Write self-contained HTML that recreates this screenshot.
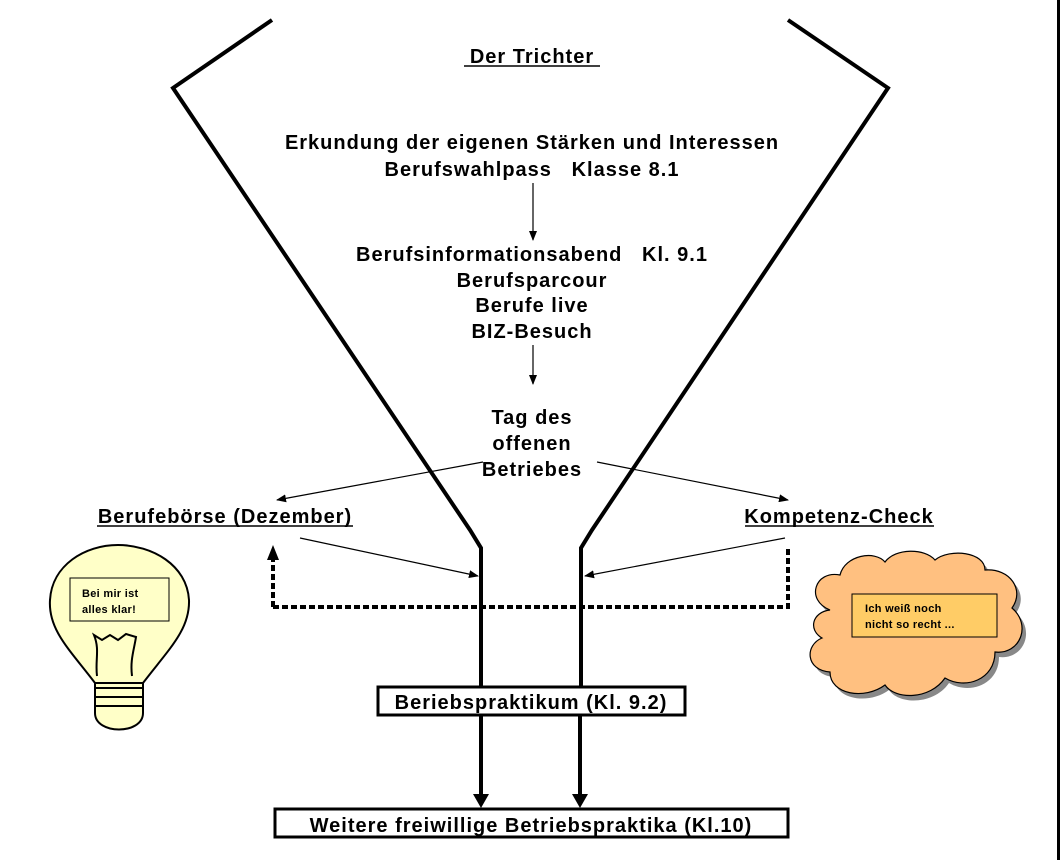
<!DOCTYPE html>
<html><head><meta charset="utf-8"><style>
body{margin:0;background:#fff}
svg{display:block}
text{font-family:"Liberation Sans",sans-serif;font-weight:bold;fill:#000;letter-spacing:1px;white-space:pre}
</style></head><body>
<svg width="1060" height="860" viewBox="0 0 1060 860" xml:space="preserve">
<defs>
<marker id="a" markerWidth="10" markerHeight="8" refX="9" refY="4" orient="auto" markerUnits="userSpaceOnUse"><path d="M0,0 L10,4 L0,8z"/></marker>
</defs>
<rect x="1057" y="0" width="3" height="860" fill="#000"/>
<g fill="none" stroke="#000" stroke-width="4">
<polyline points="272,20 173,88 470,530 481,548 481,686"/>
<polyline points="788,20 888,88 592,530 581,548 581,686"/>
</g>
<g stroke="#000" stroke-width="4">
<line x1="481" y1="716" x2="481" y2="796"/>
<line x1="580" y1="716" x2="580" y2="796"/>
</g>
<path d="M473,794 L489,794 L481,808z M572,794 L588,794 L580,808z"/>
<g stroke="#000" stroke-width="4" stroke-dasharray="6,3" fill="none">
<polyline points="273,607 273,560"/>
<polyline points="273,607 788,607 788,548"/>
</g>
<path d="M267,560 L279,560 L273,545z"/>
<g stroke="#000" stroke-width="1.2" marker-end="url(#a)">
<line x1="533" y1="183" x2="533" y2="240"/>
<line x1="533" y1="345" x2="533" y2="384"/>
<line x1="483" y1="462" x2="277" y2="500"/>
<line x1="597" y1="462" x2="788" y2="500"/>
<line x1="300" y1="538" x2="478" y2="576"/>
<line x1="785" y1="538" x2="585" y2="576"/>
</g>
<text x="532" y="63" font-size="20" text-anchor="middle">Der Trichter</text>
<line x1="464" y1="66" x2="600" y2="66" stroke="#000" stroke-width="1.5"/>
<text x="532" y="149" font-size="20" text-anchor="middle">Erkundung der eigenen Stärken und Interessen</text>
<text x="532" y="176" font-size="20" text-anchor="middle">Berufswahlpass   Klasse 8.1</text>
<text x="532" y="261" font-size="20" text-anchor="middle">Berufsinformationsabend   Kl. 9.1</text>
<text x="532" y="287" font-size="20" text-anchor="middle">Berufsparcour</text>
<text x="532" y="312" font-size="20" text-anchor="middle">Berufe live</text>
<text x="532" y="338" font-size="20" text-anchor="middle">BIZ-Besuch</text>
<text x="532" y="424" font-size="20" text-anchor="middle">Tag des</text>
<text x="532" y="450" font-size="20" text-anchor="middle">offenen</text>
<text x="532" y="476" font-size="20" text-anchor="middle">Betriebes</text>
<text x="225" y="523" font-size="20" text-anchor="middle">Berufebörse (Dezember)</text>
<line x1="97" y1="526" x2="353" y2="526" stroke="#000" stroke-width="1.5"/>
<text x="839" y="523" font-size="20" text-anchor="middle">Kompetenz-Check</text>
<line x1="745" y1="526" x2="934" y2="526" stroke="#000" stroke-width="1.5"/>
<rect x="378" y="687" width="307" height="28" fill="#fff" stroke="#000" stroke-width="3"/>
<text x="531" y="709" font-size="20" text-anchor="middle">Beriebspraktikum (Kl. 9.2)</text>
<rect x="275" y="809" width="513" height="28" fill="#fff" stroke="#000" stroke-width="3"/>
<text x="531" y="832" font-size="20" text-anchor="middle">Weitere freiwillige Betriebspraktika (Kl.10)</text>
<path d="M95,683 C70,650 48,630 50,600 C52,565 85,545 118,545 C152,545 187,565 189,600 C190,630 168,650 143,683 Z" fill="#ffffc8" stroke="#000" stroke-width="2"/>
<path d="M95,683 L143,683 L143,713 C143,735 95,735 95,713 Z" fill="#ffffc8" stroke="#000" stroke-width="2"/>
<g stroke="#000" stroke-width="2"><line x1="95" y1="688" x2="143" y2="688"/><line x1="95" y1="697" x2="143" y2="697"/><line x1="95" y1="706" x2="143" y2="706"/></g>
<path d="M97,676 C95,660 100,650 94,635 L102,640 L110,635 L118,640 L126,634 L136,637 C134,650 130,660 132,676" fill="none" stroke="#000" stroke-width="2"/>
<rect x="70" y="578" width="99" height="43" fill="#ffffc8" stroke="#000" stroke-width="1"/>
<text x="82" y="597" font-size="11" style="letter-spacing:0.3px">Bei mir ist</text>
<text x="82" y="613" font-size="11" style="letter-spacing:0.3px">alles klar!</text>
<g transform="translate(4,5)" fill="#888">
<path d="M830,610 C805,600 815,570 840,575 C845,555 875,550 885,562 C895,548 925,548 935,560 C950,548 985,552 985,570 C1010,568 1025,590 1012,608 C1032,625 1020,655 995,652 C995,680 965,690 945,678 C930,700 895,700 885,685 C865,700 830,695 830,672 C805,670 805,645 822,638 C808,630 812,612 830,610 Z"/>
</g>
<path d="M830,610 C805,600 815,570 840,575 C845,555 875,550 885,562 C895,548 925,548 935,560 C950,548 985,552 985,570 C1010,568 1025,590 1012,608 C1032,625 1020,655 995,652 C995,680 965,690 945,678 C930,700 895,700 885,685 C865,700 830,695 830,672 C805,670 805,645 822,638 C808,630 812,612 830,610 Z" fill="#ffc080" stroke="#000" stroke-width="1.2"/>
<rect x="852" y="594" width="145" height="43" fill="#ffcc66" stroke="#000" stroke-width="1"/>
<text x="865" y="612" font-size="11" style="letter-spacing:0.3px">Ich weiß noch</text>
<text x="865" y="628" font-size="11" style="letter-spacing:0.3px">nicht so recht ...</text>
</svg>
</body></html>
